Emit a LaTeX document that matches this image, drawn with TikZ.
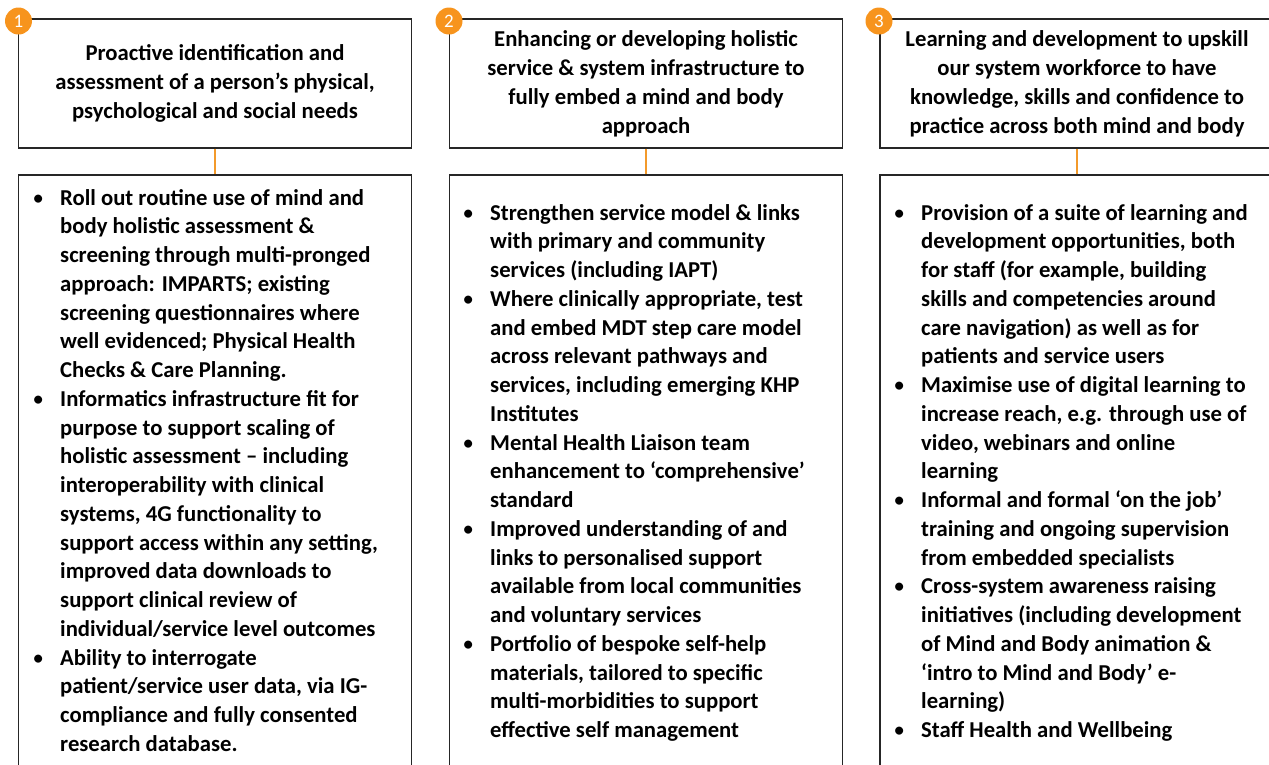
\documentclass[tikz,border=0pt]{standalone}
\usepackage{fontspec}
\setmainfont{Carlito}
\definecolor{boxline}{HTML}{262626}
\definecolor{linkorange}{HTML}{F39A2B}
\definecolor{badgeorange}{HTML}{F7941D}
\tikzset{
  headbox/.style={draw=boxline, line width=1.3pt, rectangle, inner sep=0pt,
    minimum width=393pt, minimum height=129pt, align=center,
    font=\fontsize{22.7}{29}\selectfont\bfseries},
  bodybox/.style={draw=boxline, line width=1.3pt, rectangle, inner sep=0pt,
    minimum width=393pt, minimum height=640pt},
  bodytext/.style={inner sep=0pt, anchor=base west,
    font=\fontsize{22.7}{28.75}\selectfont\bfseries},
  link/.style={draw=linkorange, line width=1.5pt},
  badge/.style={circle, fill=badgeorange, text=white, minimum size=27pt,
    inner sep=0pt, font=\fontsize{19}{19}\selectfont}
}
\newcommand{\bitem}{\hspace*{2.5pt}{\mdseries\textbullet}}
\begin{document}
\begin{tikzpicture}[x=1pt, y=-1pt]
\useasboundingbox (0,0) rectangle (1269,764);
\clip (0,0) rectangle (1269,764);

% heading boxes
\node[headbox] (t1) at (215,83.5) {Proactive identification and\\assessment of a person’s physical,\\psychological and social needs};
\node[headbox] (t2) at (646,83.5) {Enhancing or developing holistic\\service \& system infrastructure to\\fully embed a mind and body\\approach};
\node[headbox, minimum width=394pt] (t3) at (1077,83.5) {Learning and development to upskill\\our system workforce to have\\knowledge, skills and confidence to\\practice across both mind and body};

% detail boxes (they run past the lower edge)
\node[bodybox] (b1) at (215,495) {};
\node[bodybox] (b2) at (646,495) {};
\node[bodybox, minimum width=394pt] (b3) at (1077,495) {};

% connectors
\draw[link] (t1.south) -- (b1.north);
\draw[link] (t2.south) -- (b2.north);
\draw[link] (t3.south) -- (b3.north);

% numbered badges
\node[badge] (n1) at (18.5,21) {1};
\node[badge] (n2) at (449,21) {2};
\node[badge] (n3) at (879,21) {3};

% bullet lists
\node[bodytext] (l1) at (30,205) {\begin{tabular}[t]{@{}p{30pt}@{}l@{}}
\bitem & Roll out routine use of mind and\\
 & body holistic assessment \&\\
 & screening through multi-pronged\\
 & approach: IMPARTS; existing\\
 & screening questionnaires where\\
 & well evidenced; Physical Health\\
 & Checks \& Care Planning.\\
\bitem & Informatics infrastructure fit for\\
 & purpose to support scaling of\\
 & holistic assessment – including\\
 & interoperability with clinical\\
 & systems, 4G functionality to\\
 & support access within any setting,\\
 & improved data downloads to\\
 & support clinical review of\\
 & individual/service level outcomes\\
\bitem & Ability to interrogate\\
 & patient/service user data, via IG-\\
 & compliance and fully consented\\
 & research database.
\end{tabular}};

\node[bodytext] (l2) at (460,220) {\begin{tabular}[t]{@{}p{30pt}@{}l@{}}
\bitem & Strengthen service model \& links\\
 & with primary and community\\
 & services (including IAPT)\\
\bitem & Where clinically appropriate, test\\
 & and embed MDT step care model\\
 & across relevant pathways and\\
 & services, including emerging KHP\\
 & Institutes\\
\bitem & Mental Health Liaison team\\
 & enhancement to ‘comprehensive’\\
 & standard\\
\bitem & Improved understanding of and\\
 & links to personalised support\\
 & available from local communities\\
 & and voluntary services\\
\bitem & Portfolio of bespoke self-help\\
 & materials, tailored to specific\\
 & multi-morbidities to support\\
 & effective self management
\end{tabular}};

\node[bodytext] (l3) at (891,220) {\begin{tabular}[t]{@{}p{30pt}@{}l@{}}
\bitem & Provision of a suite of learning and\\
 & development opportunities, both\\
 & for staff (for example, building\\
 & skills and competencies around\\
 & care navigation) as well as for\\
 & patients and service users\\
\bitem & Maximise use of digital learning to\\
 & increase reach, e.g. through use of\\
 & video, webinars and online\\
 & learning\\
\bitem & Informal and formal ‘on the job’\\
 & training and ongoing supervision\\
 & from embedded specialists\\
\bitem & Cross-system awareness raising\\
 & initiatives (including development\\
 & of Mind and Body animation \&\\
 & ‘intro to Mind and Body’ e-\\
 & learning)\\
\bitem & Staff Health and Wellbeing
\end{tabular}};
\end{tikzpicture}
\end{document}
